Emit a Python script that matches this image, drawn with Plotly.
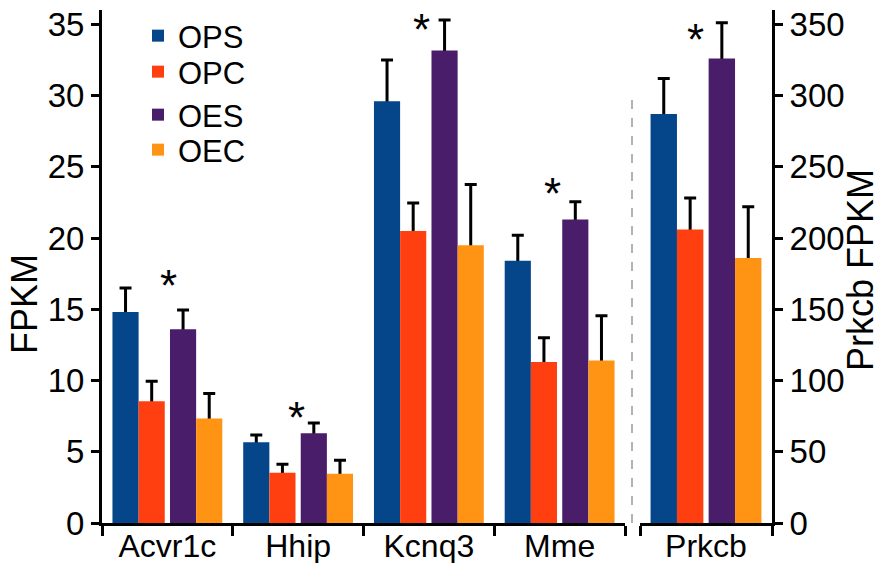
import plotly.graph_objects as go

genes = ["Acvr1c", "Hhip", "Kcnq3", "Mme"]
gene_right = ["Prkcb"]
series = ["OPS", "OPC", "OES", "OEC"]
colors = ["#05458A", "#FF3F10", "#4A1D6A", "#FF9414"]

# left axis genes (FPKM)
ops = [14.8, 5.67, 29.6, 18.4]
opc = [8.55, 3.52, 20.5, 11.3]
oes = [13.6, 6.3, 33.15, 21.3]
oec = [7.33, 3.45, 19.5, 11.4]
ops_err = [1.7, 0.5, 2.9, 1.8]
opc_err = [1.4, 0.6, 1.95, 1.7]
oes_err = [1.35, 0.72, 2.15, 1.25]
oec_err = [1.75, 0.95, 4.25, 3.15]

# right axis gene (Prkcb FPKM)
prkcb = [287, 206, 326, 186]
prkcb_err = [25, 22, 25, 36]

# significance asterisks (x offset within group, y value of asterisk centre)
sig_dx = [0.005, -0.01, -0.053, -0.058]
sig_y = [17.0, 7.77, 35.0, 23.5]
sig_dx_right = -0.076
sig_y_right = 343

left_vals = [ops, opc, oes, oec]
left_errs = [ops_err, opc_err, oes_err, oec_err]
offsets = [-0.42, -0.22, 0.02, 0.22]
bar_w = 0.2
legend_ids = ["legend", "legend2", "legend3", "legend4"]
legend_rows_px = [36, 72, 115, 150]   # legend row centres (px from top)

FONT = "Arial, Liberation Sans, Helvetica, sans-serif"
H, W = 563, 877
ML, MR, MT, MB = 102, 105, 10, 40
PH = H - MT - MB
PW = W - ML - MR

fig = go.Figure()
# error bars first (hidden bars), the coloured bars are drawn over their lower ends
for i, s in enumerate(series):
    fig.add_trace(go.Bar(
        x=genes, y=left_vals[i], marker=dict(color="rgba(0,0,0,0)", line=dict(width=0)),
        width=bar_w, offset=offsets[i], showlegend=False, hoverinfo="skip",
        error_y=dict(type="data", array=left_errs[i], arrayminus=[0.4] * len(genes),
                     symmetric=False, color="black", thickness=3, width=6),
        xaxis="x", yaxis="y",
    ))
    fig.add_trace(go.Bar(
        x=gene_right, y=[prkcb[i]], marker=dict(color="rgba(0,0,0,0)", line=dict(width=0)),
        width=bar_w, offset=offsets[i], showlegend=False, hoverinfo="skip",
        error_y=dict(type="data", array=[prkcb_err[i]], arrayminus=[4],
                     symmetric=False, color="black", thickness=3, width=6),
        xaxis="x2", yaxis="y2",
    ))
for i, s in enumerate(series):
    fig.add_trace(go.Bar(
        x=genes, y=left_vals[i], name=s, marker=dict(color=colors[i], line=dict(width=0)),
        width=bar_w, offset=offsets[i], legend=legend_ids[i],
        xaxis="x", yaxis="y",
    ))
    fig.add_trace(go.Bar(
        x=gene_right, y=[prkcb[i]], name=s, marker=dict(color=colors[i], line=dict(width=0)),
        width=bar_w, offset=offsets[i], showlegend=False,
        xaxis="x2", yaxis="y2",
    ))

star_font = dict(size=44, family=FONT, color="black")
annotations = []
for i, g in enumerate(genes):
    annotations.append(dict(x=i + sig_dx[i], y=sig_y[i], xref="x", yref="y", text="*",
                            showarrow=False, font=star_font, xanchor="center",
                            yanchor="middle", yshift=-5))
annotations.append(dict(x=0 + sig_dx_right, y=sig_y_right, xref="x2", yref="y2", text="*",
                        showarrow=False, font=star_font, xanchor="center",
                        yanchor="middle", yshift=-5))
annotations.append(dict(x=(24 - ML) / PW, y=(H - MB - 304) / PH, xref="paper", yref="paper",
                        text="FPKM", textangle=-90, showarrow=False, xanchor="center",
                        yanchor="middle", font=dict(size=36, family=FONT, color="black")))
annotations.append(dict(x=(860 - ML) / PW, y=(H - MB - 270) / PH, xref="paper", yref="paper",
                        text="Prkcb FPKM", textangle=-90, showarrow=False, xanchor="center",
                        yanchor="middle", font=dict(size=36, family=FONT, color="black")))

axis_common = dict(showline=True, linecolor="black", linewidth=3, ticks="outside",
                   tickcolor="black", tickwidth=3, showgrid=False, zeroline=False,
                   automargin=False, tickfont=dict(size=33, family=FONT, color="black"))
xfont = dict(size=32, family=FONT, color="black")

legend_layout = {}
for i, lid in enumerate(legend_ids):
    legend_layout[lid] = dict(x=(138 - ML) / PW, y=(H - MB - legend_rows_px[i]) / PH,
                              xanchor="left", yanchor="middle",
                              font=dict(size=31, family=FONT, color="black"),
                              bgcolor="rgba(0,0,0,0)", borderwidth=0)

fig.update_layout(
    width=W, height=H,
    margin=dict(l=ML, r=MR, t=MT, b=MB, autoexpand=False),
    paper_bgcolor="white", plot_bgcolor="white",
    barmode="overlay",
    showlegend=True,
    xaxis=dict(domain=[0, (625 - ML) / PW], type="category", tickson="boundaries", ticklen=10,
               range=[-0.5, 3.5], anchor="y", ticklabelstandoff=-7,
               **{**axis_common, "tickfont": xfont}),
    xaxis2=dict(domain=[(640 - ML) / PW, 1.0], type="category", tickson="boundaries", ticklen=10,
                range=[-0.5, 0.5], anchor="y2", ticklabelstandoff=-7,
                **{**axis_common, "tickfont": xfont}),
    yaxis=dict(domain=[0, 1], range=[0, 36], tickvals=[0, 5, 10, 15, 20, 25, 30, 35],
               ticklen=8, anchor="x", **axis_common),
    yaxis2=dict(domain=[0, 1], range=[0, 360], tickvals=[0, 50, 100, 150, 200, 250, 300, 350],
                ticklen=8, anchor="x2", side="right", **axis_common),
    annotations=annotations,
    shapes=[dict(type="line", xref="paper", yref="paper", x0=(632 - ML) / PW, x1=(632 - ML) / PW,
                 y0=0, y1=(H - MB - 100) / PH,
                 line=dict(color="#999999", width=1.5, dash="dash"))],
    **legend_layout,
)

fig.write_html("out.html", post_script="document.body.style.margin='0';",
               config={"displayModeBar": False})
